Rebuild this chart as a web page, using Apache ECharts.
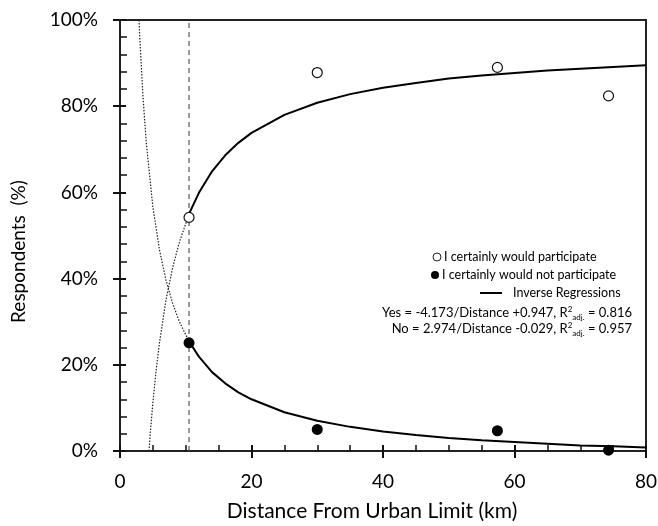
<!DOCTYPE html>
<html>
<head>
<meta charset="utf-8">
<script src="https://cdn.jsdelivr.net/npm/echarts@6/dist/echarts.min.js"></script>
<style>
  html, body { margin: 0; padding: 0; background: #fff; }
  #chart { width: 658px; height: 526px; }
</style>
</head>
<body>
<div id="chart"></div>
<script>
// observed survey points: [distance km, % respondents]
const yesPoints = [[10.5, 54.2], [30.0, 87.8], [57.4, 89.0], [74.3, 82.4]];
const noPoints = [[10.5, 25.1], [30.0, 5.0], [57.4, 4.7], [74.3, 0.2]];

// regression curves
const yesFit = [[10.5, 55.0], [12, 59.9], [14, 64.9], [16, 68.6], [18, 71.5], [20, 73.8],
  [25, 78.0], [30, 80.8], [35, 82.8], [40, 84.3], [45, 85.4], [50, 86.4], [55, 87.1],
  [60, 87.7], [65, 88.3], [70, 88.7], [75, 89.1], [80, 89.5]];
const noFit = [[10.5, 25.4], [12, 21.9], [14, 18.3], [16, 15.7], [18, 13.6], [20, 12.0],
  [25, 9.0], [30, 7.0], [35, 5.6], [40, 4.5], [45, 3.7], [50, 3.0], [55, 2.5],
  [60, 2.1], [65, 1.7], [70, 1.3], [75, 1.1], [80, 0.8]];
// extrapolated parts (dotted)
const yesExtra = [[4.41, 0], [4.6, 4.0], [5, 11.2], [5.5, 18.8], [6, 25.1], [7, 35.1],
  [8, 42.5], [9, 48.3], [10.5, 55.0]];
const noExtra = [[2.89, 100], [3, 96.2], [3.5, 82.1], [4, 71.5], [5, 56.6], [6, 46.7],
  [7, 39.6], [8, 34.3], [9, 30.1], [10.5, 25.4]];

const cutoffLine = [[10.5, 0], [10.5, 100]];

const xTicks = { min: 0, max: 80, step: 20 };
const yTicks = { min: 0, max: 100, step: 20 };

const legendLabels = ['I certainly would participate', 'I certainly would not participate', 'Inverse Regressions'];
const eqYes = 'Yes = -4.173/Distance +0.947, R{sup|2}{sub|adj.} = 0.816';
const eqNo = 'No = 2.974/Distance -0.029, R{sup|2}{sub|adj.} = 0.957';

const FONT = 'Lato';
const INK = '#000';
const AXIS = '#111';

const chart = echarts.init(document.getElementById('chart'));

const eqRich = {
  sup: { fontSize: 8, fontFamily: FONT, color: INK, verticalAlign: 'top', lineHeight: 16 },
  sub: { fontSize: 8, fontFamily: FONT, color: INK, verticalAlign: 'bottom', lineHeight: 16 }
};

const options = {
  animation: false,
  backgroundColor: '#fff',
  textStyle: { fontFamily: FONT, color: INK },
  grid: {
    left: 120, right: 12, top: 20, bottom: 75,
    outerBoundsMode: 'none', containLabel: false,
    show: true, borderColor: '#222', borderWidth: 2
  },
  xAxis: [
    {
      type: 'value', min: xTicks.min, max: xTicks.max, interval: xTicks.step,
      name: 'Distance From Urban Limit (km)', nameLocation: 'middle', nameGap: 50,
      nameTextStyle: { fontSize: 21, color: INK, fontFamily: FONT, padding: [0, 22, 0, 0] },
      axisLine: { show: true, lineStyle: { color: '#222', width: 2 } },
      axisTick: { show: true, inside: true, length: 6, lineStyle: { color: AXIS, width: 2 } },
      minorTick: { show: true, splitNumber: 4, length: 6, lineStyle: { color: AXIS, width: 1.5 } },
      axisLabel: { fontSize: 19, color: INK, margin: 21, fontFamily: FONT },
      splitLine: { show: false }
    },
    {
      type: 'value', min: xTicks.min, max: xTicks.max, interval: xTicks.step, position: 'bottom',
      axisLine: { show: false },
      axisTick: { show: true, inside: false, length: 7, lineStyle: { color: AXIS, width: 2 } },
      axisLabel: { show: false },
      splitLine: { show: false }
    }
  ],
  yAxis: [
    {
      type: 'value', min: yTicks.min, max: yTicks.max, interval: yTicks.step,
      name: 'Respondents  (%)', nameLocation: 'middle', nameGap: 92,
      nameTextStyle: { fontSize: 19, color: INK, fontFamily: FONT, padding: [0, 32, 0, 0] },
      axisLine: { show: true, lineStyle: { color: '#222', width: 2 } },
      axisTick: { show: true, inside: true, length: 6, lineStyle: { color: AXIS, width: 2 } },
      minorTick: { show: true, splitNumber: 5, length: 7, lineStyle: { color: AXIS, width: 1.5 } },
      axisLabel: { fontSize: 19, color: INK, margin: 22, formatter: '{value}%', fontFamily: FONT },
      splitLine: { show: false }
    },
    {
      type: 'value', min: yTicks.min, max: yTicks.max, interval: yTicks.step, position: 'left',
      axisLine: { show: false },
      axisTick: { show: true, inside: false, length: 7, lineStyle: { color: AXIS, width: 2 } },
      axisLabel: { show: false },
      splitLine: { show: false }
    }
  ],
  series: [
    {
      name: 'cutoff', type: 'line', data: cutoffLine, symbol: 'none',
      lineStyle: { color: '#555', width: 1.2, type: [5, 4] }, z: 1
    },
    {
      name: 'Yes extrapolated', type: 'line', data: yesExtra, symbol: 'none',
      lineStyle: { color: '#222', width: 1.2, type: [1.5, 1.5] }, z: 2
    },
    {
      name: 'No extrapolated', type: 'line', data: noExtra, symbol: 'none',
      lineStyle: { color: '#222', width: 1.2, type: [1.5, 1.5] }, z: 2
    },
    {
      name: 'Yes fit', type: 'line', data: yesFit, symbol: 'none',
      lineStyle: { color: '#000', width: 2 }, z: 3
    },
    {
      name: 'No fit', type: 'line', data: noFit, symbol: 'none',
      lineStyle: { color: '#000', width: 2 }, z: 3
    },
    {
      name: 'I certainly would participate', type: 'scatter', data: yesPoints,
      symbol: 'circle', symbolSize: 10,
      itemStyle: { color: '#fff', borderColor: '#111', borderWidth: 1.2, opacity: 1 }, z: 5
    },
    {
      name: 'I certainly would not participate', type: 'scatter', data: noPoints,
      symbol: 'circle', symbolSize: 11,
      itemStyle: { color: '#000', opacity: 1 }, z: 5
    }
  ],
  graphic: [
    { type: 'circle', shape: { cx: 437, cy: 257, r: 4 }, style: { fill: '#fff', stroke: '#222', lineWidth: 1 } },
    { type: 'text', x: 444, y: 257, style: { text: legendLabels[0], fontSize: 12.5, fontFamily: FONT, fill: INK, verticalAlign: 'middle' } },
    { type: 'circle', shape: { cx: 435, cy: 275, r: 4 }, style: { fill: '#000' } },
    { type: 'text', x: 442, y: 275, style: { text: legendLabels[1], fontSize: 12.5, fontFamily: FONT, fill: INK, verticalAlign: 'middle' } },
    { type: 'line', shape: { x1: 480, y1: 293, x2: 502, y2: 293 }, style: { stroke: '#000', lineWidth: 2 } },
    { type: 'text', x: 513, y: 293, style: { text: legendLabels[2], fontSize: 12.5, fontFamily: FONT, fill: INK, verticalAlign: 'middle' } },
    { type: 'text', x: 632, y: 313, style: { text: eqYes, rich: eqRich, fontSize: 13, fontFamily: FONT, fill: INK, align: 'right', verticalAlign: 'middle', lineHeight: 16 } },
    { type: 'text', x: 632, y: 329, style: { text: eqNo, rich: eqRich, fontSize: 13, fontFamily: FONT, fill: INK, align: 'right', verticalAlign: 'middle', lineHeight: 16 } }
  ]
};

chart.setOption(options);
</script>
</body>
</html>
